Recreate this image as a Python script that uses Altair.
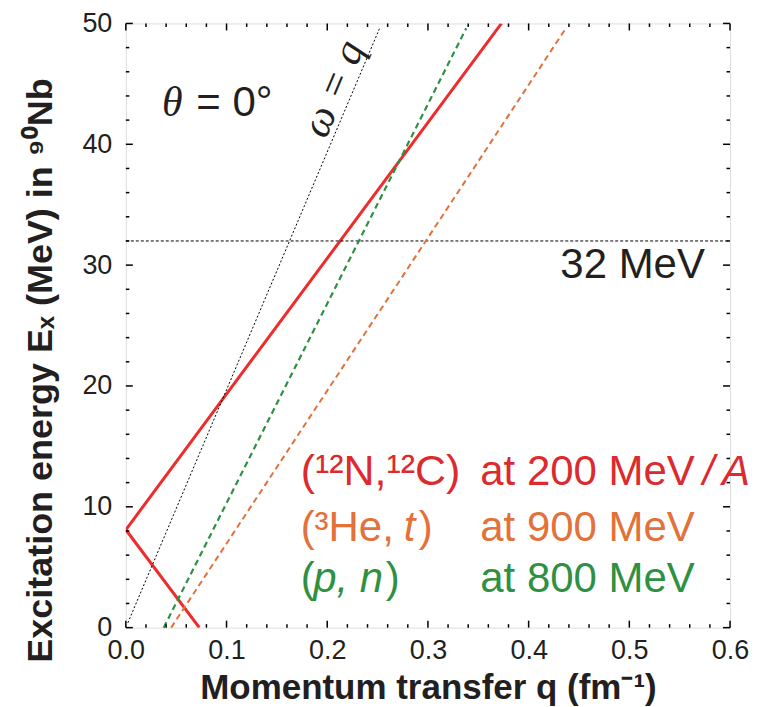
import altair as alt
import pandas as pd

# ---------------- data ----------------
red_q = [0.073, 0.0, 0.373]
red_E = [0.0, 8.1, 50.0]
orange_q = [0.045, 0.437]
orange_E = [0.0, 49.6]
green_q = [0.0376, 0.338]
green_E = [0.0, 49.6]
omega_q = [0.002, 0.252]
omega_E = [0.4, 49.6]
hline_q = [0.0, 0.6]
hline_E = [32.0, 32.0]

x_major = [0.0, 0.1, 0.2, 0.3, 0.4, 0.5, 0.6]
x_minor = [0.02, 0.04, 0.06, 0.08, 0.12, 0.14, 0.16, 0.18, 0.22, 0.24, 0.26, 0.28,
           0.32, 0.34, 0.36, 0.38, 0.42, 0.44, 0.46, 0.48, 0.52, 0.54, 0.56, 0.58]
y_major = [0, 10, 20, 30, 40, 50]
y_minor = [2, 4, 6, 8, 12, 14, 16, 18, 22, 24, 26, 28, 32, 34, 36, 38, 42, 44, 46, 48]

RED_LINE = "#ee2c2c"
RED_TXT = "#dc2a2e"
ORANGE = "#e2713a"
GREEN = "#2e9142"
DARK = "#231f20"
FONT = "Liberation Sans"

W, H = 605, 605

xs = alt.Scale(domain=[0, 0.6], nice=False, zero=False, padding=0)
ys = alt.Scale(domain=[0, 50], nice=False, zero=False, padding=0)

def line_df(q, E, name):
    return pd.DataFrame({"q": q, "E": E, "o": list(range(len(q))), "s": [name] * len(q)})

X = alt.X("q:Q", scale=xs,
          axis=alt.Axis(values=x_major, format=".1f", ticks=False, domain=False, grid=False,
                        labelFlush=False,
                        labelFontSize=27, labelFont=FONT, labelColor=DARK, labelPadding=10,
                        title="Momentum transfer q (fm⁻¹)", titleFont=FONT, titleFontSize=35,
                        titleFontWeight="bold", titleColor=DARK, titlePadding=7))
Y = alt.Y("E:Q", scale=ys,
          axis=alt.Axis(values=y_major, ticks=False, domain=False, grid=False,
                        labelFlush=False,
                        labelFontSize=27, labelFont=FONT, labelColor=DARK, labelPadding=14,
                        title="Excitation energy Eₓ (MeV) in ⁹⁰Nb", titleFont=FONT,
                        titleFontSize=36, titleFontWeight="bold", titleColor=DARK,
                        titlePadding=22, titleY=347))
Xp = alt.X("q:Q", scale=xs)
Yp = alt.Y("E:Q", scale=ys)

red = alt.Chart(line_df(red_q, red_E, "red")).mark_line(
    color=RED_LINE, strokeWidth=3, clip=True).encode(x=X, y=Y, order="o:O")
orange = alt.Chart(line_df(orange_q, orange_E, "orange")).mark_line(
    color=ORANGE, strokeWidth=2, strokeDash=[6, 4]).encode(x=Xp, y=Yp, order="o:O")
green = alt.Chart(line_df(green_q, green_E, "green")).mark_line(
    color=GREEN, strokeWidth=2.2, strokeDash=[6, 4]).encode(x=Xp, y=Yp, order="o:O")
omega = alt.Chart(line_df(omega_q, omega_E, "omega")).mark_line(
    color="#000", strokeWidth=1, strokeDash=[2, 2]).encode(x=Xp, y=Yp, order="o:O")
hline = alt.Chart(line_df(hline_q, hline_E, "h")).mark_line(
    color="#000", strokeWidth=1, strokeDash=[3, 2]).encode(x=Xp, y=Yp, order="o:O")

# ticks (inward, on all four sides)
def xticks(vals, length):
    d = pd.DataFrame({"q": vals})
    b = alt.Chart(d).mark_rule(color="#000", strokeWidth=1.5).encode(
        x=Xp, y=alt.value(H), y2=alt.value(H - length))
    t = alt.Chart(d).mark_rule(color="#000", strokeWidth=1.5).encode(
        x=Xp, y=alt.value(0), y2=alt.value(length))
    return b + t

def yticks(vals, length):
    d = pd.DataFrame({"E": vals})
    l = alt.Chart(d).mark_rule(color="#000", strokeWidth=1.5).encode(
        y=Yp, x=alt.value(0), x2=alt.value(length))
    r = alt.Chart(d).mark_rule(color="#000", strokeWidth=1.5).encode(
        y=Yp, x=alt.value(W), x2=alt.value(W - length))
    return l + r

ticks = xticks(x_major, 7) + xticks(x_minor, 3.5) + yticks(y_major, 7) + yticks(y_minor, 3.5)

# ---------------- annotations ----------------
def txt(q, E, s, color=DARK, size=42, style="normal", font=FONT, align="left",
        baseline="alphabetic", angle=0):
    d = pd.DataFrame({"q": [q], "E": [E], "t": [s]})
    return alt.Chart(d).mark_text(color=color, fontSize=size, fontStyle=style, font=font,
                                  align=align, baseline=baseline, angle=angle).encode(
        x=Xp, y=Yp, text="t:N")

notes = [
    txt(0.036, 42.3, "θ", size=42, style="italic", font="Liberation Serif"),
    txt(0.0700, 42.3, "= 0°", size=42),
    txt(0.206, 44.6, "ω = q", size=42, style="italic", font="Liberation Serif",
        align="center", baseline="middle", angle=293),
    txt(0.575, 28.9, "32 MeV", size=42, align="right"),
    # legend line 1
    txt(0.1736, 11.77, "(¹²N,¹²C)", color=RED_TXT, size=43),
    txt(0.352, 11.77, "at 200 MeV", color=RED_TXT),
    txt(0.573, 11.77, "/", color=RED_TXT, style="italic"),
    txt(0.592, 11.77, "A", color=RED_TXT, style="italic"),
    # legend line 2
    txt(0.1736, 7.2, "(³He,", color=ORANGE),
    txt(0.276, 7.2, "t", color=ORANGE, style="italic"),
    txt(0.291, 7.2, ")", color=ORANGE),
    txt(0.352, 7.2, "at 900 MeV", color=ORANGE),
    # legend line 3
    txt(0.1736, 2.96, "(", color=GREEN),
    txt(0.186, 2.96, "p, n", color=GREEN, style="italic"),
    txt(0.258, 2.96, ")", color=GREEN),
    txt(0.352, 2.96, "at 800 MeV", color=GREEN),
]

chart = alt.layer(red, hline, omega, green, orange, ticks, *notes).properties(
    width=W, height=H,
    padding={"left": 14, "top": 1, "right": 5, "bottom": 5},
).configure_view(stroke="#000", strokeWidth=2).configure(background="white")

chart.save("out.html", embed_options={"renderer": "svg", "actions": False})
